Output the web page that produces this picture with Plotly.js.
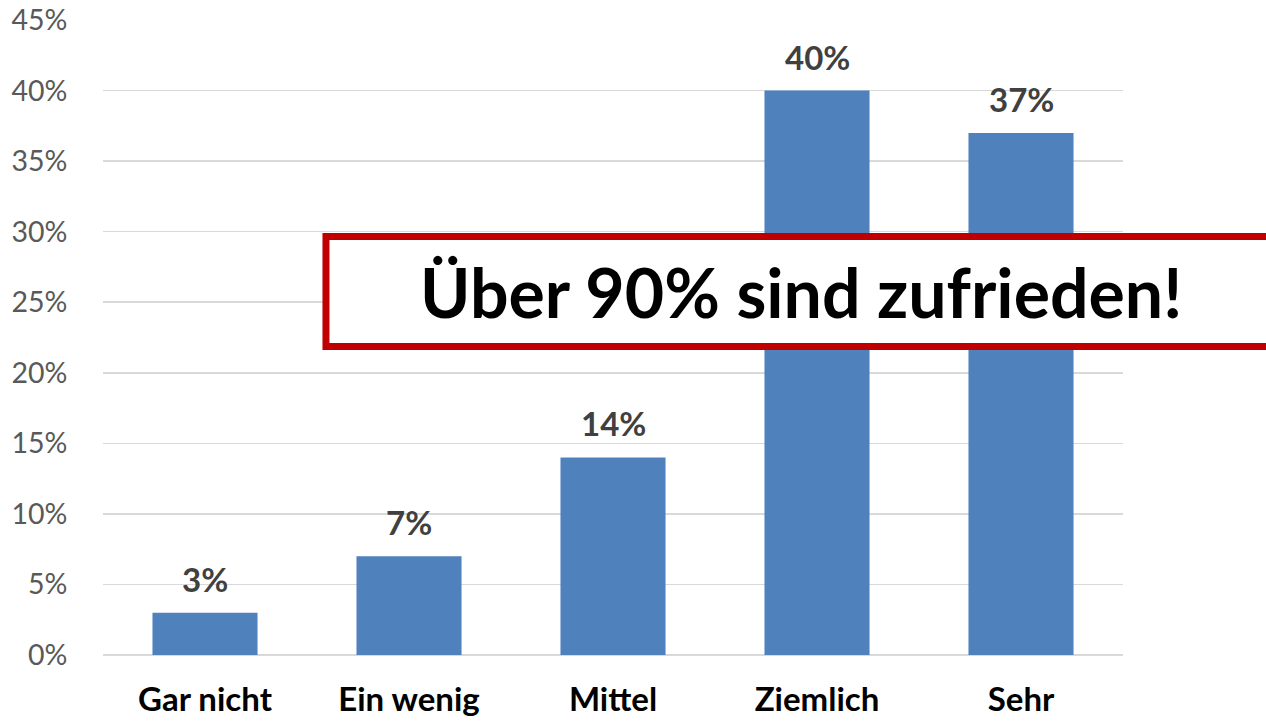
<!DOCTYPE html>
<html>
<head>
<meta charset="utf-8">
<script src="https://cdn.plot.ly/plotly-3.0.1.min.js"></script>
<style>html,body{margin:0;padding:0;background:#fff;}#chart{width:1266px;height:721px;}</style>
</head>
<body>
<div id="chart"></div>
<script>
const categories = ["Gar nicht", "Ein wenig", "Mittel", "Ziemlich", "Sehr"];
const values = [3, 7, 14, 40, 37];
const valueLabels = ["3%", "7%", "14%", "40%", "37%"];
const tickValues = [0, 5, 10, 15, 20, 25, 30, 35, 40, 45];
const tickLabels = ["0%", "5%", "10%", "15%", "20%", "25%", "30%", "35%", "40%", "45%"];
const calloutText = "Über 90% sind zufrieden!";

const FONT = "Lato, 'Open Sans', sans-serif";

const trace = {
  type: "bar",
  x: categories,
  y: values,
  marker: { color: "#4F81BD" },
  hoverinfo: "none"
};

const labelAnnotations = categories.map((c, i) => ({
  x: c, y: values[i], xref: "x", yref: "y",
  text: "<b>" + valueLabels[i] + "</b>",
  showarrow: false, yanchor: "bottom", yshift: 12,
  font: { family: FONT, size: 33, color: "#404040" }
}));

const layout = {
  width: 1266, height: 721,
  margin: { l: 103, r: 143, t: 20, b: 66 },
  paper_bgcolor: "#ffffff", plot_bgcolor: "#ffffff",
  showlegend: false,
  bargap: 0.485,
  font: { family: FONT },
  xaxis: {
    type: "category",
    showgrid: false, zeroline: false, showline: false,
    ticks: "outside", ticklen: 15, tickcolor: "rgba(0,0,0,0)",
    tickfont: { family: FONT, size: 33, color: "#000000", weight: "bold" }
  },
  yaxis: {
    range: [0, 45],
    tickvals: tickValues, ticktext: tickLabels,
    showgrid: true, gridcolor: "#D9D9D9", gridwidth: 1.5,
    zeroline: true, zerolinecolor: "#D9D9D9", zerolinewidth: 1.5,
    showline: false,
    ticks: "outside", ticklen: 29, tickcolor: "rgba(0,0,0,0)",
    tickfont: { family: FONT, size: 28.5, color: "#595959" }
  },
  shapes: [{
    type: "rect", xref: "paper", yref: "paper",
    x0: 0.2186, x1: 1.25, y0: 0.486, y1: 0.659,
    fillcolor: "#ffffff", line: { color: "#C00000", width: 7 },
    layer: "above"
  }],
  annotations: labelAnnotations.concat([{
    xref: "paper", yref: "paper",
    x: (801 - 103) / 1020, y: 0.572,
    xanchor: "center", yanchor: "middle",
    text: "<b>" + calloutText + "</b>",
    showarrow: false,
    font: { family: FONT, size: 68, color: "#000000" }
  }])
};

Plotly.newPlot("chart", [trace], layout, { displayModeBar: false, staticPlot: true });
</script>
</body>
</html>
